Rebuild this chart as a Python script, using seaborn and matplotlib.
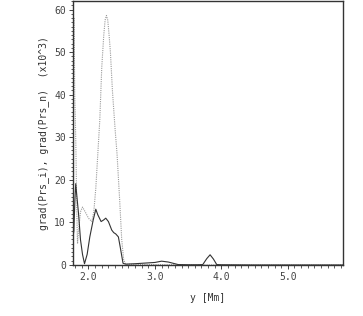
import numpy as np
import pandas as pd
import matplotlib
matplotlib.use("Agg")
import matplotlib.pyplot as plt
import seaborn as sns
from matplotlib.ticker import MultipleLocator

# grad(Prs_i) - solid curve
y_ion = [1.767, 1.78, 1.795, 1.808, 1.82, 1.85, 1.88, 1.91, 1.94, 1.98, 2.02,
         2.07, 2.11, 2.14, 2.19, 2.23, 2.26, 2.30, 2.35, 2.38, 2.41, 2.45, 2.48,
         2.52, 2.56, 2.7, 2.9, 3.0, 3.1, 3.2, 3.35, 3.5, 3.65, 3.72, 3.78, 3.83,
         3.88, 3.93, 4.0, 4.5, 5.0, 5.83]
g_ion = [6.6, 8.0, 15.0, 19.1, 17.0, 12.1, 5.9, 2.5, 0.3, 2.5, 6.6,
         10.5, 13.1, 11.8, 10.2, 10.6, 11.0, 10.2, 8.2, 7.6, 7.3, 6.6, 4.0,
         0.4, 0.2, 0.3, 0.5, 0.6, 0.9, 0.7, 0.1, 0.05, 0.05, 0.1, 1.5, 2.4,
         1.4, 0.1, 0.05, 0.0, 0.0, 0.0]

# grad(Prs_n) - dotted curve
y_neu = [1.786, 1.789, 1.793, 1.80, 1.81, 1.825, 1.835, 1.85, 1.88, 1.91, 1.95,
         2.00, 2.05, 2.08, 2.11, 2.14, 2.17, 2.20, 2.23, 2.25, 2.27, 2.29, 2.31,
         2.33, 2.36, 2.40, 2.43, 2.47, 2.50, 2.53, 2.56, 2.7, 3.0, 3.5, 4.0,
         5.0, 5.83]
g_neu = [58.0, 48.0, 40.0, 36.0, 28.0, 12.0, 5.0, 8.0, 12.5, 13.6, 12.5,
         11.0, 10.2, 12.5, 18.0, 26.0, 34.0, 46.5, 54.0, 57.5, 58.6, 57.5, 54.0,
         50.0, 41.0, 32.0, 26.0, 15.0, 6.0, 1.2, 0.2, 0.15, 0.1, 0.05, 0.0,
         0.0, 0.0]

ion = pd.DataFrame({"y": y_ion, "g": g_ion})
neu = pd.DataFrame({"y": y_neu, "g": g_neu})

sns.set_style("ticks")
plt.rcParams["font.family"] = ["DejaVu Sans Mono"]

fig, ax = plt.subplots(figsize=(3.63, 3.16), dpi=100)
fig.subplots_adjust(left=73 / 363, right=343 / 363, top=1 - 1 / 316, bottom=1 - 265 / 316)

sns.lineplot(data=neu, x="y", y="g", ax=ax, color="#9a9a9a", lw=0.8,
             linestyle=(0, (1, 1)), sort=False)
sns.lineplot(data=ion, x="y", y="g", ax=ax, color="#333333", lw=0.8, sort=False)

ax.set_xlim(1.767, 5.83)
ax.set_ylim(0, 62)
ax.set_xticks([2.0, 3.0, 4.0, 5.0])
ax.set_xticklabels(["2.0", "3.0", "4.0", "5.0"])
ax.set_yticks([0, 10, 20, 30, 40, 50, 60])
ax.xaxis.set_minor_locator(MultipleLocator(0.1))
ax.yaxis.set_minor_locator(MultipleLocator(1))
ax.tick_params(which="major", length=3, width=0.7, labelsize=7, colors="#444444", pad=2)
ax.tick_params(which="minor", length=1.8, width=0.6, colors="#444444")

for s in ax.spines.values():
    s.set_color("#333333")
    s.set_linewidth(1.0)

ax.set_xlabel("y [Mm]", fontsize=7, color="#333333", labelpad=8)
ax.set_ylabel("grad(Prs_i), grad(Prs_n)  (x10^3)", fontsize=7, color="#333333", labelpad=4)

fig.savefig("out.png", dpi=100)
